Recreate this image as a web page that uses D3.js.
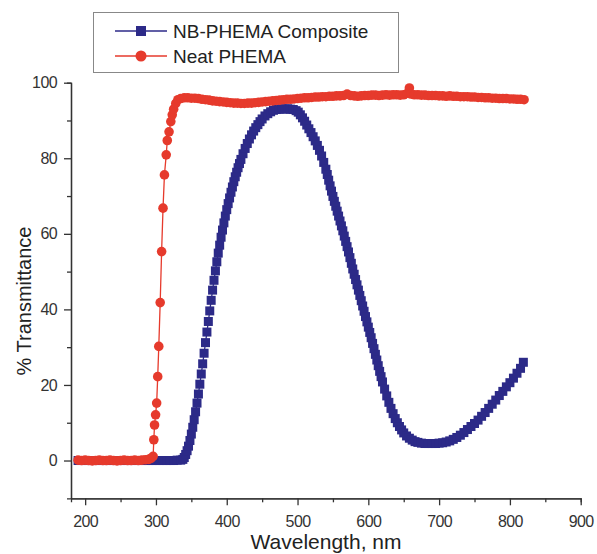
<!DOCTYPE html>
<html>
<head>
<meta charset="utf-8">
<script src="https://cdn.jsdelivr.net/npm/d3@7"></script>
<style>
  body { margin: 0; background: #fff; }
  svg { display: block; font-family: "Liberation Sans", Arial, sans-serif; }
</style>
</head>
<body>
<svg id="chart" width="597" height="554"></svg>
<script>
// DATA //
const seriesNames = ["NB-PHEMA Composite", "Neat PHEMA"]

const xTicks = [200, 300, 400, 500, 600, 700, 800, 900]
const yTicks = [0, 20, 40, 60, 80, 100]

// Neat PHEMA (red circles)
const neatWl = [190, 195, 200, 205, 210, 215, 220, 225, 230, 235, 240, 245, 250, 255, 260, 265, 270, 275, 280, 285, 290, 293,
  296, 297, 298, 299.5, 301, 302.5, 304, 306, 308, 310, 312, 314.5, 316, 318.5, 321, 323, 325, 328, 331,
  335, 340, 345, 350, 355, 360, 365, 370, 375, 380, 385, 390, 395, 400, 405, 410, 415, 420, 425, 430, 435, 440, 445, 450,
  455, 460, 465, 470, 475, 480, 485, 490, 495, 500, 505, 510, 515, 520, 525, 530, 535, 540, 545, 550, 555, 560, 565, 570,
  575, 580, 585, 590, 595, 600, 605, 610, 615, 620, 625, 630, 635, 640, 645, 650, 655, 658, 660, 665, 670, 675, 680, 685,
  690, 695, 700, 705, 710, 715, 720, 725, 730, 735, 740, 745, 750, 755, 760, 765, 770, 775, 780, 785, 790, 795, 800, 805,
  810, 815, 820]
const neatT = [0.1, 0.0, 0.1, 0.0, -0.1, 0.0, 0.1, 0.0, 0.0, 0.1, 0.0, -0.1, 0.0, 0.1, 0.0, 0.0, 0.1, 0.0, 0.1, 0.2, 0.3, 0.6,
  1.1, 5.5, 9.4, 12.1, 15.2, 22.2, 30.2, 41.8, 55.3, 66.8, 75.6, 80.9, 84.7, 87.0, 89.7, 91.5, 93.0, 94.5, 95.5,
  95.8, 96.0, 96.0, 95.9, 95.9, 95.8, 95.6, 95.5, 95.4, 95.2, 95.1, 95.0, 94.9, 94.8, 94.7, 94.6, 94.6, 94.5, 94.5, 94.6,
  94.6, 94.7, 94.8, 94.9, 95.0, 95.1, 95.2, 95.3, 95.4, 95.5, 95.6, 95.6, 95.7, 95.8, 95.9, 96.0, 96.0, 96.1, 96.2, 96.2,
  96.3, 96.3, 96.4, 96.4, 96.5, 96.5, 96.6, 97.0, 96.6, 96.5, 96.4, 96.5, 96.6, 96.6, 96.7, 96.7, 96.6, 96.7, 96.8, 96.7,
  96.8, 96.8, 96.7, 96.8, 97.2, 98.6, 97.0, 96.8, 96.8, 96.7, 96.7, 96.6, 96.6, 96.6, 96.5, 96.5, 96.4, 96.5, 96.4, 96.4,
  96.3, 96.3, 96.3, 96.2, 96.2, 96.1, 96.1, 96.0, 96.0, 95.9, 95.9, 95.8, 95.8, 95.8, 95.7, 95.7, 95.6, 95.6, 95.5]

// NB-PHEMA Composite (blue squares)
const compWl = [190, 195, 200, 205, 210, 215, 220, 225, 230, 235, 240, 245, 250, 255, 260, 265, 270, 275, 280, 285, 290,
  295, 300, 305, 310, 315, 320, 325, 330, 335,
  338, 340, 342, 344, 346, 348, 350, 352, 354, 356, 358, 360, 362, 364, 366, 368, 370, 372, 374, 376, 378, 380, 382, 384,
  386, 388, 390, 392, 394, 396, 398, 400, 402, 404, 406, 408, 410, 412, 414, 416, 418, 420, 423, 426, 429, 432, 435, 438,
  441, 444, 447, 450, 454, 458, 462, 466, 470, 474, 478, 482, 486, 490, 494, 498, 501, 504, 507, 510, 513, 516, 519, 522,
  525, 528, 531, 534, 537, 540, 542, 544, 546, 548, 550, 552, 554, 556, 558, 560, 562, 564, 566, 568, 570, 572, 574, 576,
  578, 580, 582, 584, 586, 588, 590, 592, 594, 596, 598, 600, 602, 604, 606, 608, 610, 612, 614, 616, 618, 620, 623, 626,
  629, 632, 635, 638, 641, 644, 647, 650, 654, 658, 662, 666, 670, 675, 680, 685, 690, 695, 700, 705, 710, 715, 720, 725,
  730, 735, 740, 745, 750, 755, 760, 765, 770, 775, 780, 785, 790, 795, 800, 805, 810, 815, 819]
const compT = [0, 0, 0, 0, 0, 0, 0, 0, 0, 0, 0, 0, 0, 0, 0, 0, 0, 0, 0, 0, 0,
  0, 0, 0, 0, 0, 0, 0, 0.1, 0.1,
  0.3, 0.8, 1.6, 2.6, 3.8, 5.3, 7.0, 8.8, 10.8, 12.9, 15.2, 17.6, 20.2, 22.9, 25.6, 28.4, 31.2, 34.0, 36.8, 39.6, 42.4,
  45.1, 47.7, 50.2, 52.6, 54.9, 57.0, 59.1, 61.0, 62.9, 64.7, 66.4, 68.0, 69.5, 71.0, 72.4, 73.8, 75.1, 76.3, 77.5, 78.6,
  79.7, 81.2, 82.6, 83.9, 85.1, 86.2, 87.2, 88.1, 88.9, 89.7, 90.4, 91.2, 91.8, 92.3, 92.7, 92.9, 93.0, 93.1, 93.0, 93.1,
  93.0, 92.9, 92.6, 92.2, 91.5, 90.7, 89.8, 88.8, 87.8, 86.8, 85.7, 84.6, 83.4, 82.1, 80.6, 78.9, 77.1, 75.7, 74.2, 72.7,
  71.3, 69.9, 68.6, 67.3, 66.0, 64.7, 63.4, 62.1, 60.8, 59.4, 58.0, 56.6, 55.2, 53.7, 52.2, 50.7, 49.3, 47.9, 46.5, 45.1,
  43.7, 42.3, 40.9, 39.5, 38.1, 36.7, 35.3, 33.9, 32.5, 31.0, 29.6, 28.1, 26.6, 25.1, 23.6, 22.2, 20.8, 18.9, 17.1, 15.4,
  13.8, 12.4, 11.1, 10.0, 9.0, 8.1, 7.3, 6.5, 5.9, 5.4, 5.0, 4.8, 4.6, 4.5, 4.5, 4.5, 4.5, 4.6, 4.7, 4.9, 5.2, 5.6, 6.1,
  6.7, 7.4, 8.2, 9.0, 9.8, 10.7, 11.7, 12.7, 13.8, 14.9, 16.0, 17.2, 18.3, 19.5, 20.6, 21.8, 23.1, 24.4, 26.0]

const colors = ["#2c2a88", "#e63a2c"]

// CHART //
const svg = d3.select('#chart')

const x = d3.scaleLinear().domain([180, 900]).range([71, 580.7])
const y = d3.scaleLinear().domain([-10, 100]).range([498.3, 82.7])

const axisColor = "#333"

// minor ticks
svg.append('g')
  .attr('transform', 'translate(0,498.3)')
  .call(d3.axisBottom(x).tickValues(d3.range(250, 900, 100)).tickSize(4).tickFormat(''))
svg.append('g')
  .attr('transform', 'translate(71,0)')
  .call(d3.axisLeft(y).tickValues([10, 30, 50, 70, 90]).tickSize(4).tickFormat(''))

// major ticks
svg.append('g')
  .attr('class', 'xaxis')
  .attr('transform', 'translate(0,498.3)')
  .call(d3.axisBottom(x).tickValues(xTicks).tickSize(7).tickPadding(10).tickSizeOuter(0))
svg.append('g')
  .attr('class', 'yaxis')
  .attr('transform', 'translate(71,0)')
  .call(d3.axisLeft(y).tickValues(yTicks).tickSize(7).tickPadding(7).tickSizeOuter(0))

svg.selectAll('.domain, .tick line').attr('stroke', axisColor).attr('stroke-width', 1.3)
svg.selectAll('.tick text')
  .attr('fill', axisColor)
  .style('font-size', '16px')
  .style('font-family', '"Liberation Sans", Arial, sans-serif')
  .style('letter-spacing', '-0.6px')

// axis titles
svg.append('text')
  .attr('x', 326).attr('y', 549)
  .attr('text-anchor', 'middle')
  .attr('fill', '#222')
  .style('font-size', '21px')
  .text('Wavelength, nm')

svg.append('text')
  .attr('transform', 'translate(31,301) rotate(-90)')
  .attr('text-anchor', 'middle')
  .attr('fill', '#222')
  .style('font-size', '20px')
  .text('% Transmittance')

// series
const compData = compWl.map((d, i) => ({ x: d, y: compT[i] }))
const neatData = neatWl.map((d, i) => ({ x: d, y: neatT[i] }))

const line = d3.line().x(d => x(d.x)).y(d => y(d.y))

const plot = svg.append('g')

plot.append('path')
  .datum(compData)
  .attr('d', line)
  .attr('fill', 'none')
  .attr('stroke', colors[0])
  .attr('stroke-width', 1.3)

plot.selectAll('rect.comp')
  .data(compData)
  .enter()
  .append('rect')
  .attr('class', 'comp')
  .attr('x', d => x(d.x) - 4.5)
  .attr('y', d => y(d.y) - 4.5)
  .attr('width', 9)
  .attr('height', 9)
  .attr('fill', colors[0])

plot.append('path')
  .datum(neatData)
  .attr('d', line)
  .attr('fill', 'none')
  .attr('stroke', colors[1])
  .attr('stroke-width', 1.3)

plot.selectAll('circle.neat')
  .data(neatData)
  .enter()
  .append('circle')
  .attr('class', 'neat')
  .attr('cx', d => x(d.x))
  .attr('cy', d => y(d.y))
  .attr('r', 4.8)
  .attr('fill', colors[1])

// LEGEND //
const legend = svg.append('g')
legend.append('rect')
  .attr('x', 93.5).attr('y', 12.5)
  .attr('width', 305).attr('height', 60)
  .attr('fill', '#fff')
  .attr('stroke', '#888')
  .attr('stroke-width', 1)

seriesNames.forEach((name, i) => {
  const ly = 31 + i * 25
  legend.append('line')
    .attr('x1', 115).attr('x2', 167)
    .attr('y1', ly).attr('y2', ly)
    .attr('stroke', colors[i])
    .attr('stroke-width', 1.5)
  if (i === 0) {
    legend.append('rect')
      .attr('x', 136).attr('y', ly - 5)
      .attr('width', 10).attr('height', 10)
      .attr('fill', colors[i])
  } else {
    legend.append('circle')
      .attr('cx', 141).attr('cy', ly)
      .attr('r', 5.5)
      .attr('fill', colors[i])
  }
  legend.append('text')
    .attr('x', 173).attr('y', ly + 7)
    .attr('fill', '#222')
    .style('font-size', '19px')
    .text(name)
})
</script>
</body>
</html>
